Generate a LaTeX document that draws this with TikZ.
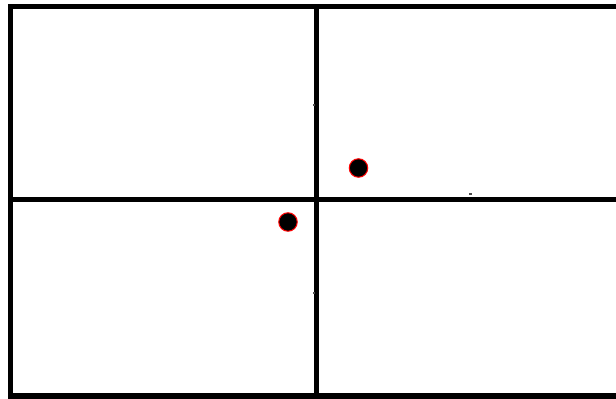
\documentclass[tikz,border=0pt]{standalone}
\usepackage{tikz}
\usetikzlibrary{calc}

\begin{document}
\begin{tikzpicture}[
  x=0.02cm, y=-0.02cm,
  grid/.style={line width=0.105cm, line cap=butt, line join=miter},
  dot/.style={circle, fill=black, draw=red, line width=0.6pt,
              minimum size=0.37cm, inner sep=0pt},
  speck/.style={fill=black!70, draw=none},
]
  \useasboundingbox (0, 0) rectangle (616, 399);

  % outer frame (open on the right)
  \draw[grid] (616, 6.5) -- (10.5, 6.5) -- (10.5, 396) -- (616, 396);

  % thirds
  \draw[grid] (316.5, 6.5) -- (316.5, 396);
  \draw[grid] (10.5, 199.5) -- (616, 199.5);

  % points
  \node[dot] (upper) at (358.5, 168) {};
  \node[dot] (lower) at (288, 222) {};

  % small marks
  \fill[speck] (313, 104) rectangle (315, 106);
  \fill[speck] (469, 193) rectangle (472, 195);
  \fill[speck] (313, 292) rectangle (315, 294);
\end{tikzpicture}
\end{document}
